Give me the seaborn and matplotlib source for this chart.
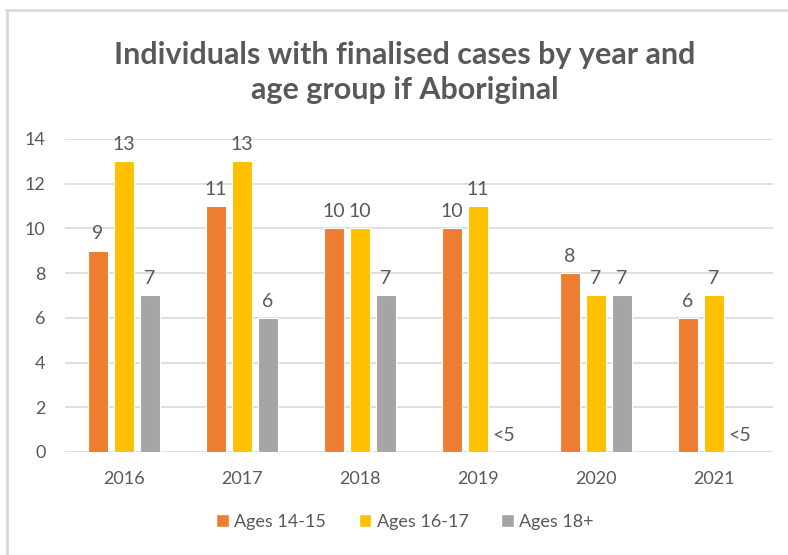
import pandas as pd
import numpy as np
import matplotlib.pyplot as plt
import seaborn as sns
from matplotlib.patches import Patch

years = ["2016", "2017", "2018", "2019", "2020", "2021"]
groups = ["Ages 14-15", "Ages 16-17", "Ages 18+"]
ages_14_15 = [9, 11, 10, 10, 8, 6]
ages_16_17 = [13, 13, 10, 11, 7, 7]
ages_18_plus = [7, 6, 7, 0, 7, 0]   # 2019 and 2021 suppressed (<5)
labels_14_15 = ["9", "11", "10", "10", "8", "6"]
labels_16_17 = ["13", "13", "10", "11", "7", "7"]
labels_18_plus = ["7", "6", "7", "<5", "7", "<5"]
colors = ["#ED7D31", "#FFC000", "#A5A5A5"]

df = pd.DataFrame({
    "Year": years * 3,
    "Group": [g for g in groups for _ in years],
    "Value": ages_14_15 + ages_16_17 + ages_18_plus,
})
all_labels = [labels_14_15, labels_16_17, labels_18_plus]

sns.set_style("white")
plt.rcParams["font.family"] = ["Lato", "DejaVu Sans"]
text_col = "#595959"

fig = plt.figure(figsize=(7.88, 5.55), dpi=100)
ax = fig.add_axes([0.0825, 0.1856, 0.8985, 0.564])

sns.barplot(data=df, x="Year", y="Value", hue="Group", palette=colors, saturation=1,
            width=0.66, gap=0.2, ax=ax, legend=False, edgecolor="white", linewidth=0.8)

for cont, labs in zip(ax.containers, all_labels):
    ax.bar_label(cont, labels=labs, padding=6, fontsize=14, color=text_col)

ax.set_ylim(0, 14)
ax.set_yticks(range(0, 15, 2))
ax.set_xlim(-0.5, 5.5)
ax.grid(axis="y", color="#D9D9D9", linewidth=1.2)
ax.set_axisbelow(True)
for s in ax.spines.values():
    s.set_visible(False)
ax.tick_params(axis="both", length=0, labelsize=13, colors=text_col)
ax.tick_params(axis="x", pad=14)
ax.tick_params(axis="y", pad=14)
ax.set_xlabel("")
ax.set_ylabel("")

fig.text(0.514, 0.87, "Individuals with finalised cases by year and\nage group if Aboriginal",
         ha="center", va="center", fontsize=22, fontweight="bold", color=text_col,
         linespacing=1.3)

handles = [Patch(facecolor=c, label=g) for c, g in zip(colors, groups)]
fig.legend(handles=handles, loc="center", bbox_to_anchor=(0.514, 0.06), ncol=3,
           frameon=False, fontsize=13, labelcolor=text_col, handlelength=0.7,
           handleheight=0.7, handletextpad=0.3, columnspacing=1.8)

# chart frame (only top and left edges visible in the crop)
fig.add_artist(plt.Line2D([0.008, 1.0], [0.982, 0.982], color="#D9D9D9", lw=2))
fig.add_artist(plt.Line2D([0.009, 0.009], [0.0, 0.982], color="#D9D9D9", lw=2))

fig.savefig("out.png", dpi=100)
